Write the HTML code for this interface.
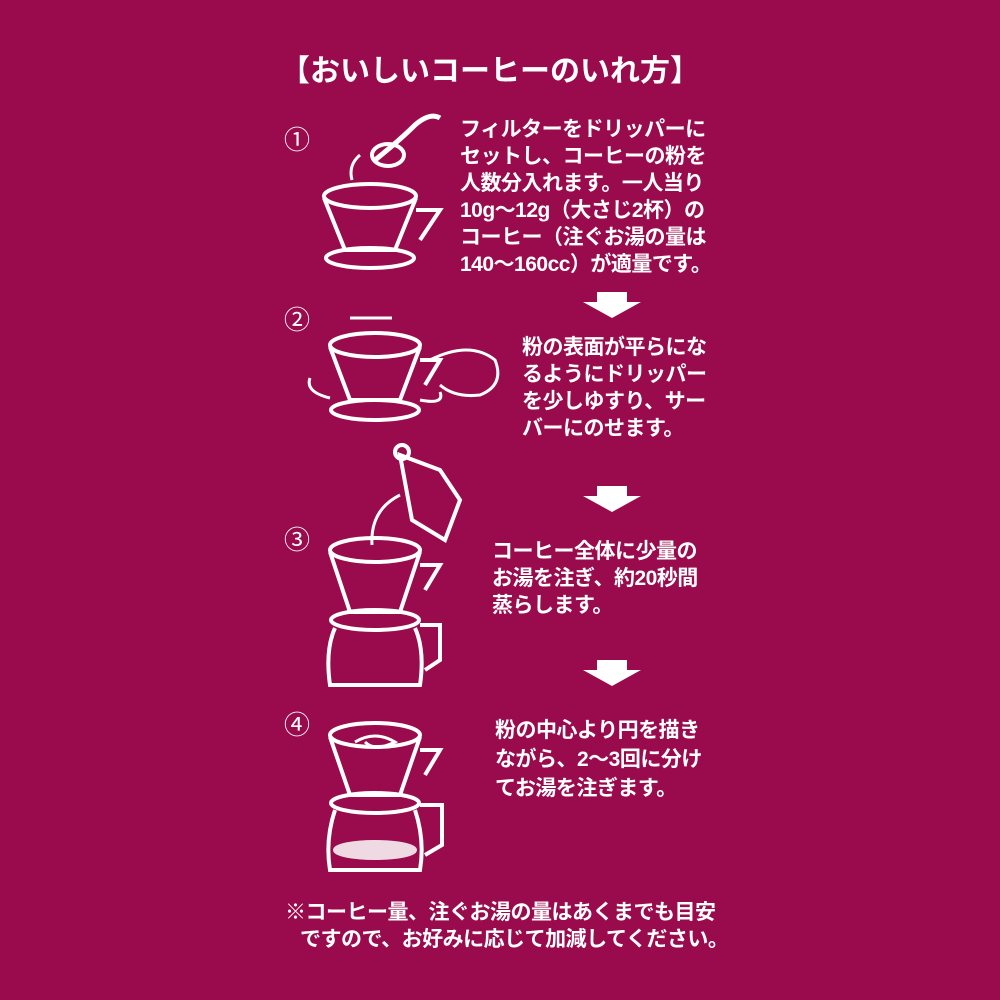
<!DOCTYPE html>
<html><head><meta charset="utf-8"><style>
html,body{margin:0;padding:0}
body{width:1000px;height:1000px;background:#990b4d;position:relative;overflow:hidden;font-family:"Liberation Sans","Noto Sans CJK JP",sans-serif;color:#fff;font-weight:bold}
.t{position:absolute;white-space:nowrap;font-size:21px;line-height:27px;letter-spacing:-0.5px}
.n{position:absolute;font-size:26px;font-weight:normal}
svg{position:absolute;left:0;top:0}
</style></head><body>
<div class="t" style="left:280px;top:54px;font-size:30px;line-height:36px;letter-spacing:0px">【おいしいコーヒーのいれ方】</div>
<div class="n" style="left:284px;top:120px">①</div>
<div class="n" style="left:284px;top:300px">②</div>
<div class="n" style="left:284px;top:520px">③</div>
<div class="n" style="left:284px;top:705px">④</div>
<div class="t" style="left:460px;top:116px">フィルターをドリッパーに<br>セットし、コーヒーの粉を<br>人数分入れます。一人当り<br>10g～12g（大さじ2杯）の<br>コーヒー（注ぐお湯の量は<br>140～160cc）が適量です。</div>
<div class="t" style="left:522px;top:334px">粉の表面が平らにな<br>るようにドリッパー<br>を少しゆすり、サー<br>バーにのせます。</div>
<div class="t" style="left:492px;top:538px">コーヒー全体に少量の<br>お湯を注ぎ、約20秒間<br>蒸らします。</div>
<div class="t" style="left:495px;top:716px;line-height:29px">粉の中心より円を描き<br>ながら、2～3回に分け<br>てお湯を注ぎます。</div>
<div class="t" style="left:285px;top:899px">※コーヒー量、注ぐお湯の量はあくまでも目安</div>
<div class="t" style="left:300px;top:926px">ですので、お好みに応じて加減してください。</div>
<svg width="1000" height="1000" fill="none" stroke="#fff" stroke-width="4">
<g fill="#fff" stroke="none">
<path d="M597 292h30v10h14l-29 16-29-16h14z"/>
<path d="M597 486h30v10h14l-29 16-29-16h14z"/>
<path d="M597 660h30v10h14l-29 16-29-16h14z"/>
</g>
<ellipse cx="370" cy="196" rx="46" ry="12"/>
<path d="M324 198 L345 250 H395 L416 198"/>
<path d="M416 210 H440 L420 240"/>
<ellipse cx="370" cy="258" rx="44" ry="10"/>
<path d="M375 160 Q400 140 415 125 Q430 112 440 118" stroke-width="5"/>
<ellipse cx="388" cy="155" rx="16" ry="11"/>
<path d="M360 155 Q348 165 352 180" stroke-width="3"/>
<path d="M350 318 H392" stroke-width="3"/>
<ellipse cx="375" cy="345" rx="45" ry="12"/>
<path d="M330 347 L350 400 H400 L420 347"/>
<path d="M420 360 H440 L425 385"/>
<ellipse cx="375" cy="410" rx="44" ry="10"/>
<path d="M430 360 Q470 340 495 360 Q505 385 480 395 Q455 398 440 385" stroke-width="3"/>
<path d="M310 378 Q305 392 330 398 M420 400 Q445 405 440 392" stroke-width="3"/>
<path d="M400 455 L440 470 L460 500 L445 540 L412 520 Z"/>
<circle cx="402" cy="452" r="7"/>
<path d="M400 495 Q370 510 372 545" stroke-width="3"/>
<ellipse cx="375" cy="550" rx="45" ry="12"/>
<path d="M330 552 L350 612 H400 L420 552"/>
<path d="M420 565 H440 L425 590"/>
<ellipse cx="375" cy="620" rx="44" ry="10"/>
<path d="M335 628 Q325 650 330 685 H420 Q425 650 415 628"/>
<path d="M420 625 H440 V660 L425 670"/>
<ellipse cx="375" cy="735" rx="45" ry="12"/>
<path d="M355 742 Q375 730 395 742 Q375 752 365 742" stroke-width="3"/>
<path d="M330 737 L350 795 H400 L420 737"/>
<path d="M420 750 H440 L425 775"/>
<ellipse cx="375" cy="803" rx="44" ry="10"/>
<path d="M335 810 Q325 840 330 870 H420 Q425 840 415 810"/>
<path d="M420 805 H442 V845 L425 855"/>
<ellipse cx="375" cy="850" rx="40" ry="8" fill="#fff" opacity=".85"/>
</svg>
</body></html>
